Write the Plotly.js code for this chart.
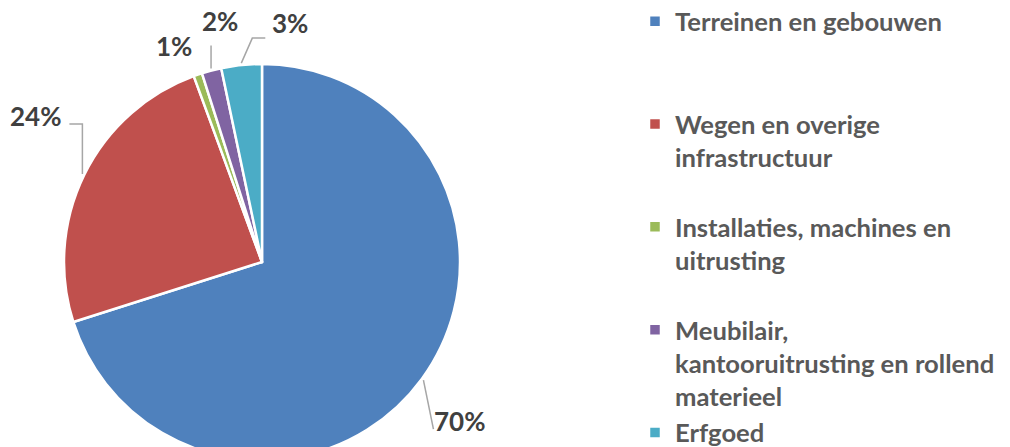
<!DOCTYPE html>
<html>
<head>
<meta charset="utf-8">
<script src="https://cdn.plot.ly/plotly-3.0.1.min.js"></script>
<style>
html, body { margin:0; padding:0; width:1010px; height:447px; overflow:hidden; background:#fff; }
#chart { width:1010px; height:544px; margin-top:-10px; }
</style>
</head>
<body>
<div id="chart"></div>
<script>
// ---- data ----
const categories = ['Terreinen en gebouwen', 'Wegen en overige infrastructuur', 'Installaties, machines en uitrusting', 'Meubilair, kantooruitrusting en rollend materieel', 'Erfgoed'];
const shares = [70.1, 24.3, 0.7, 1.6, 3.3];
const legendLines = [
  ['Terreinen en gebouwen'],
  ['Wegen en overige', 'infrastructuur'],
  ['Installaties, machines en', 'uitrusting'],
  ['Meubilair,', 'kantooruitrusting en rollend', 'materieel'],
  ['Erfgoed']
];
const colors = ['#4F81BD', '#C0504D', '#9BBB59', '#8064A2', '#4BACC6'];

// ---- layout geometry (screen pixels; the plot div starts OFF px above the window) ----
const W = 1010, H = 544, OFF = 10, CX = 262, CY = 262, R = 198;
// label placement (pixel offsets from the leader start point on the rim)
const labelPlacement = [
  {path: [[10, 49]], text: [9, 41], anchor: 'left'},
  {path: [[0, -50], [-13, -50]], text: [-19, -58], anchor: 'right'},
  {path: [], text: [-23, -27], anchor: 'center'},
  {path: [[0, -23]], text: [9, -48], anchor: 'center'},
  {path: [[11, -25], [24, -25]], text: [29, -40], anchor: 'left'}
];

const total = shares.reduce((a, b) => a + b, 0);
const px = x => x / W;
const py = y => 1 - (y + OFF) / H;

// legend labels padded to equal heights (3 lines per entry)
const legendLabels = legendLines.map((lines, i) => {
  const l = lines.slice();
  if (i < legendLines.length - 1) while (l.length < 3) l.push('\u00a0');
  return l.join('<br>');
});

const annotations = [];
const shapes = [];
let cum = 0;
shares.forEach((v, i) => {
  const mid = 2 * Math.PI * (cum + v / 2) / total;
  cum += v;
  const r = R + 2;
  const sx = CX + r * Math.sin(mid);
  const sy = CY - r * Math.cos(mid);
  const pl = labelPlacement[i];
  if (pl.path.length) {
    let d = 'M' + px(sx) + ',' + py(sy);
    pl.path.forEach(p => { d += ' L' + px(sx + p[0]) + ',' + py(sy + p[1]); });
    shapes.push({type: 'path', xref: 'paper', yref: 'paper', path: d,
      line: {color: '#A6A6A6', width: 1.5}});
  }
  annotations.push({
    xref: 'paper', yref: 'paper',
    x: px(sx + pl.text[0]), y: py(sy + pl.text[1]),
    xanchor: pl.anchor, yanchor: 'middle',
    text: Math.round(v / total * 100) + '%',
    showarrow: false,
    font: {family: 'Lato', size: 26, weight: 'bold', color: '#404040'}
  });
});

const trace = {
  type: 'pie',
  labels: legendLabels,
  values: shares,
  customdata: categories,
  hovertemplate: '%{customdata}: %{percent}<extra></extra>',
  sort: false,
  direction: 'clockwise',
  rotation: 0,
  textinfo: 'none',
  marker: {colors: colors, line: {color: '#FFFFFF', width: 2.5}},
  domain: {x: [px(CX - R), px(CX + R)], y: [py(CY + R), py(CY - R)]}
};

const layout = {
  width: W, height: H,
  margin: {l: 0, r: 0, t: 0, b: 0},
  paper_bgcolor: '#FFFFFF',
  showlegend: true,
  legend: {
    x: 635 / W, y: py(-2), xanchor: 'left', yanchor: 'top',
    valign: 'top', traceorder: 'normal',
    bgcolor: 'rgba(0,0,0,0)',
    font: {family: 'Lato', size: 25.6, weight: 'bold', color: '#595959'}
  },
  annotations: annotations,
  shapes: shapes
};

Plotly.newPlot('chart', [trace], layout, {displayModeBar: false, staticPlot: true});
</script>
</body>
</html>
